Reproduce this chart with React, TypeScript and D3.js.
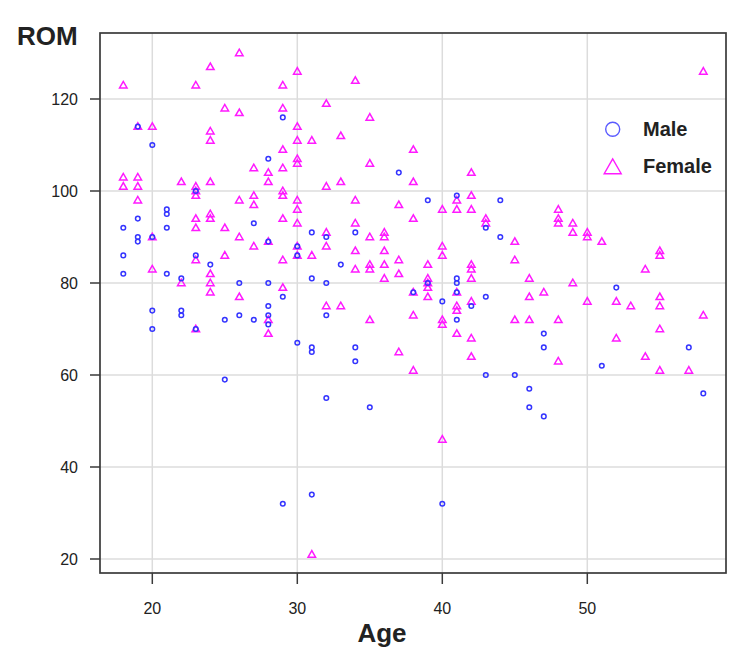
import React from "react";
import * as d3 from "d3";

const xTicks = [20, 30, 40, 50];
const yTicks = [20, 40, 60, 80, 100, 120];

const male: [number, number][] = [
  [18, 92], [18, 86], [18, 82],
  [19, 94], [19, 90], [19, 89], [19, 114],
  [20, 110], [20, 90], [20, 74], [20, 70],
  [21, 96], [21, 95], [21, 92], [21, 82],
  [22, 81], [22, 74], [22, 73],
  [23, 100], [23, 86], [23, 70],
  [24, 84],
  [25, 72], [25, 59],
  [26, 80], [26, 73],
  [27, 93], [27, 72],
  [28, 107], [28, 89], [28, 80], [28, 75], [28, 73], [28, 71],
  [29, 116], [29, 77], [29, 32],
  [30, 88], [30, 86], [30, 67],
  [31, 91], [31, 81], [31, 66], [31, 65], [31, 34],
  [32, 90], [32, 80], [32, 73], [32, 55],
  [33, 84],
  [34, 91], [34, 66], [34, 63],
  [35, 53],
  [37, 104],
  [38, 78],
  [39, 98], [39, 80],
  [40, 76], [40, 32],
  [41, 99], [41, 81], [41, 80], [41, 78], [41, 72],
  [42, 75],
  [43, 92], [43, 77], [43, 60],
  [44, 98], [44, 90],
  [45, 60],
  [46, 57], [46, 53],
  [47, 69], [47, 66], [47, 51],
  [51, 62],
  [52, 79],
  [57, 66],
  [58, 56],
];

const female: [number, number][] = [
  [18, 123], [18, 103], [18, 101],
  [19, 114], [19, 103], [19, 101], [19, 98],
  [20, 114], [20, 90], [20, 83],
  [22, 102], [22, 80],
  [23, 123], [23, 101], [23, 100], [23, 99], [23, 94], [23, 92], [23, 85], [23, 70],
  [24, 127], [24, 113], [24, 111], [24, 102], [24, 95], [24, 94], [24, 82], [24, 80], [24, 78],
  [25, 118], [25, 92], [25, 86],
  [26, 130], [26, 117], [26, 98], [26, 90], [26, 77],
  [27, 105], [27, 99], [27, 97], [27, 88],
  [28, 104], [28, 102], [28, 89], [28, 72], [28, 69],
  [29, 123], [29, 118], [29, 109], [29, 105], [29, 100], [29, 99], [29, 94], [29, 85], [29, 79],
  [30, 126], [30, 114], [30, 111], [30, 107], [30, 106], [30, 98], [30, 96], [30, 93], [30, 88], [30, 86],
  [31, 111], [31, 86], [31, 21],
  [32, 119], [32, 101], [32, 91], [32, 88], [32, 75],
  [33, 112], [33, 102], [33, 75],
  [34, 124], [34, 98], [34, 93], [34, 87], [34, 83],
  [35, 116], [35, 106], [35, 90], [35, 84], [35, 83], [35, 72],
  [36, 91], [36, 90], [36, 87], [36, 84], [36, 81],
  [37, 97], [37, 85], [37, 82], [37, 65],
  [38, 109], [38, 102], [38, 94], [38, 78], [38, 73], [38, 61],
  [39, 84], [39, 81], [39, 80], [39, 79], [39, 77],
  [40, 96], [40, 88], [40, 86], [40, 72], [40, 71], [40, 46],
  [41, 98], [41, 96], [41, 78], [41, 75], [41, 74], [41, 69],
  [42, 104], [42, 99], [42, 96], [42, 84], [42, 83], [42, 81], [42, 76], [42, 68], [42, 64],
  [43, 94], [43, 93],
  [45, 89], [45, 85], [45, 72],
  [46, 81], [46, 77], [46, 72],
  [47, 78],
  [48, 96], [48, 94], [48, 93], [48, 72], [48, 63],
  [49, 93], [49, 91], [49, 80],
  [50, 91], [50, 90], [50, 76],
  [51, 89],
  [52, 76], [52, 68],
  [53, 75],
  [54, 83], [54, 64],
  [55, 87], [55, 86], [55, 77], [55, 75], [55, 70], [55, 61],
  [57, 61],
  [58, 126], [58, 73],
];

const W = 750;
const H = 666;
const left = 100, right = 726, top = 33, bottom = 573;

const x = d3.scaleLinear().domain([20, 50]).range([152.3, 587.3]);
const y = d3.scaleLinear().domain([20, 120]).range([559, 99]);

const MALE = "#3434ff";
const FEMALE = "#ff1aff";
const font = "'Liberation Sans', Arial, sans-serif";

function tri(cx: number, cy: number, w: number) {
  const h = w * 0.87;
  return `M${cx},${cy - h * 0.58}L${cx - w / 2},${cy + h * 0.42}L${cx + w / 2},${cy + h * 0.42}Z`;
}

export default function App() {
  return (
    <svg
      width={W}
      height={H}
      style={{ position: "absolute", left: 0, top: 0, background: "#fff" }}
    >
      <rect x={0} y={0} width={W} height={H} fill="#fff" />
      {xTicks.map((t) => (
        <line key={"gx" + t} x1={x(t)} x2={x(t)} y1={top} y2={bottom} stroke="#dcdcdc" strokeWidth={1.5} />
      ))}
      {yTicks.map((t) => (
        <line key={"gy" + t} x1={left} x2={right} y1={y(t)} y2={y(t)} stroke="#dcdcdc" strokeWidth={1.5} />
      ))}
      {female.map(([a, r], i) => (
        <path key={"f" + i} d={tri(x(a), y(r), 7.5)} fill="none" stroke={FEMALE} strokeWidth={1.5} />
      ))}
      {male.map(([a, r], i) => (
        <circle key={"m" + i} cx={x(a)} cy={y(r)} r={2.3} fill="none" stroke={MALE} strokeWidth={1.5} />
      ))}
      <rect x={left} y={top} width={right - left} height={bottom - top} fill="none" stroke="#3a3a3a" strokeWidth={1.7} />
      {xTicks.map((t) => (
        <g key={"tx" + t}>
          <line x1={x(t)} x2={x(t)} y1={bottom} y2={bottom + 11} stroke="#3a3a3a" strokeWidth={1.5} />
          <text x={x(t)} y={614} textAnchor="middle" fontFamily={font} fontSize={16} fill="#222">
            {t}
          </text>
        </g>
      ))}
      {yTicks.map((t) => (
        <g key={"ty" + t}>
          <line x1={left - 10} x2={left} y1={y(t)} y2={y(t)} stroke="#3a3a3a" strokeWidth={1.5} />
          <text x={78} y={y(t) + 6} textAnchor="end" fontFamily={font} fontSize={16} fill="#222">
            {t}
          </text>
        </g>
      ))}
      <text x={17} y={45} fontFamily={font} fontWeight="bold" fontSize={26} fill="#222">ROM</text>
      <text x={382} y={642} textAnchor="middle" fontFamily={font} fontWeight="bold" fontSize={26} fill="#222">Age</text>
      <circle cx={612.7} cy={129.3} r={7} fill="none" stroke="#5a5aff" strokeWidth={1.4} />
      <path d={tri(612.7, 167.5, 17)} fill="none" stroke={FEMALE} strokeWidth={1.4} />
      <text x={643} y={136} fontFamily={font} fontWeight="bold" fontSize={20} fill="#222">Male</text>
      <text x={643} y={173} fontFamily={font} fontWeight="bold" fontSize={20} fill="#222">Female</text>
    </svg>
  );
}
